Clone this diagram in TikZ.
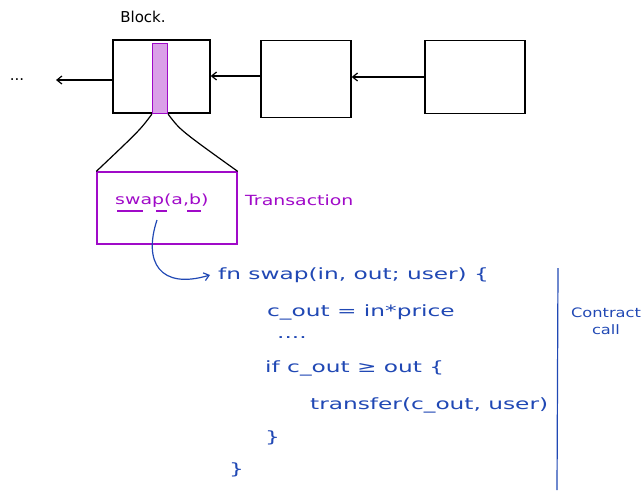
\documentclass[tikz,border=0pt]{standalone}
\usepackage{fontspec}
\setmainfont{DejaVu Sans}
\newfontfamily\codefont[FakeStretch=1.5]{DejaVu Sans}
\newfontfamily\txfont[FakeStretch=1.35]{DejaVu Sans}
\newfontfamily\ccfont[FakeStretch=1.25]{DejaVu Sans}
\usetikzlibrary{arrows.meta}
\definecolor{codeblue}{RGB}{32,72,180}
\definecolor{txpurple}{RGB}{160,10,200}
\definecolor{txfill}{RGB}{218,160,232}
\tikzset{
  blockbox/.style={draw=black, line width=1.3pt, minimum width=97pt, minimum height=73pt, inner sep=0pt},
  chainarrow/.style={draw=black, line width=1.2pt, -{Straight Barb[length=5pt,width=8pt]}},
  codetxt/.style={text=codeblue, font=\codefont\fontsize{15.5}{18}\selectfont, anchor=west, inner sep=0pt},
  purpletxt/.style={text=txpurple, font=\txfont\fontsize{14}{17}\selectfont, inner sep=0pt},
  blacktxt/.style={text=black, font=\fontsize{15}{18}\selectfont, inner sep=0pt}
}
\begin{document}
\begin{tikzpicture}[x=1pt,y=-1pt]
\useasboundingbox (0,0) rectangle (644,490);
% blocks
\node[blockbox] (b1) at (161.5,76.5) {};
\node[blockbox, minimum width=90pt, minimum height=77pt] (b2) at (306,79) {};
\node[blockbox, minimum width=100pt, minimum height=73pt] (b3) at (475,77) {};
\node[draw=txpurple, fill=txfill, line width=1.3pt, minimum width=15pt, minimum height=70pt, inner sep=0pt] (strip) at (160,78.5) {};
\node[blacktxt] (blocklbl) at (143,17) {Block.};
\node[blacktxt] (dots) at (17,80) {...};
\coordinate (dotsend) at (56,80);
% chain arrows
\draw[chainarrow] (b3.west |- 0,77) -- (b2.east |- 0,77);
\draw[chainarrow] (b2.west |- 0,76) -- (b1.east |- 0,76);
\draw[chainarrow] (b1.west |- 0,80) -- (dotsend);
% transaction box
\node[draw=txpurple, line width=1.3pt, minimum width=140pt, minimum height=72pt, inner sep=0pt] (tx) at (167,208) {};
\draw[black, line width=1.2pt] (strip.south west) .. controls (140,130) .. (tx.north west);
\draw[black, line width=1.2pt] (strip.south east) .. controls (180,130) .. (tx.north east);
\node[purpletxt, anchor=west] (txlbl) at (245,200) {Transaction};
\node[purpletxt, anchor=west] (swapcall) at (115,201) {swap(a,b)};
\draw[txpurple, line width=1.2pt] (117,211) -- (143,211);
\draw[txpurple, line width=1.2pt] (156,211) -- (167,211);
\draw[txpurple, line width=1.2pt] (187,211) -- (201,211);
% curved arrow
\coordinate (callstart) at (157,220);
\node[codetxt] (l1) at (218,275) {fn swap(in, out; user) \{};
\draw[codeblue, line width=1.2pt, -{Straight Barb[length=5pt,width=8pt]}] (callstart) .. controls (143,262) and (160,290) .. ([xshift=-8pt]l1.west);
% code
\node[codetxt] (l2) at (267,312) {c\_out = in*price};
\node[codetxt] (l3) at (277,338) {....};
\node[codetxt] (l4) at (265,368) {if c\_out ≥ out \{};
\node[codetxt] (l5) at (310,405) {transfer(c\_out, user)};
\node[codetxt] (l6) at (265,438) {\}};
\node[codetxt] (l7) at (229,470) {\}};
% contract call
\coordinate (vtop) at (558,268);
\coordinate (vbot) at (557,490);
\draw[codeblue, line width=1.2pt] (vtop) -- (vbot);
\node[codetxt, anchor=center, align=center, font=\ccfont\fontsize{13}{17}\selectfont] (cc) at (606,321) {Contract\\call};
\end{tikzpicture}
\end{document}
